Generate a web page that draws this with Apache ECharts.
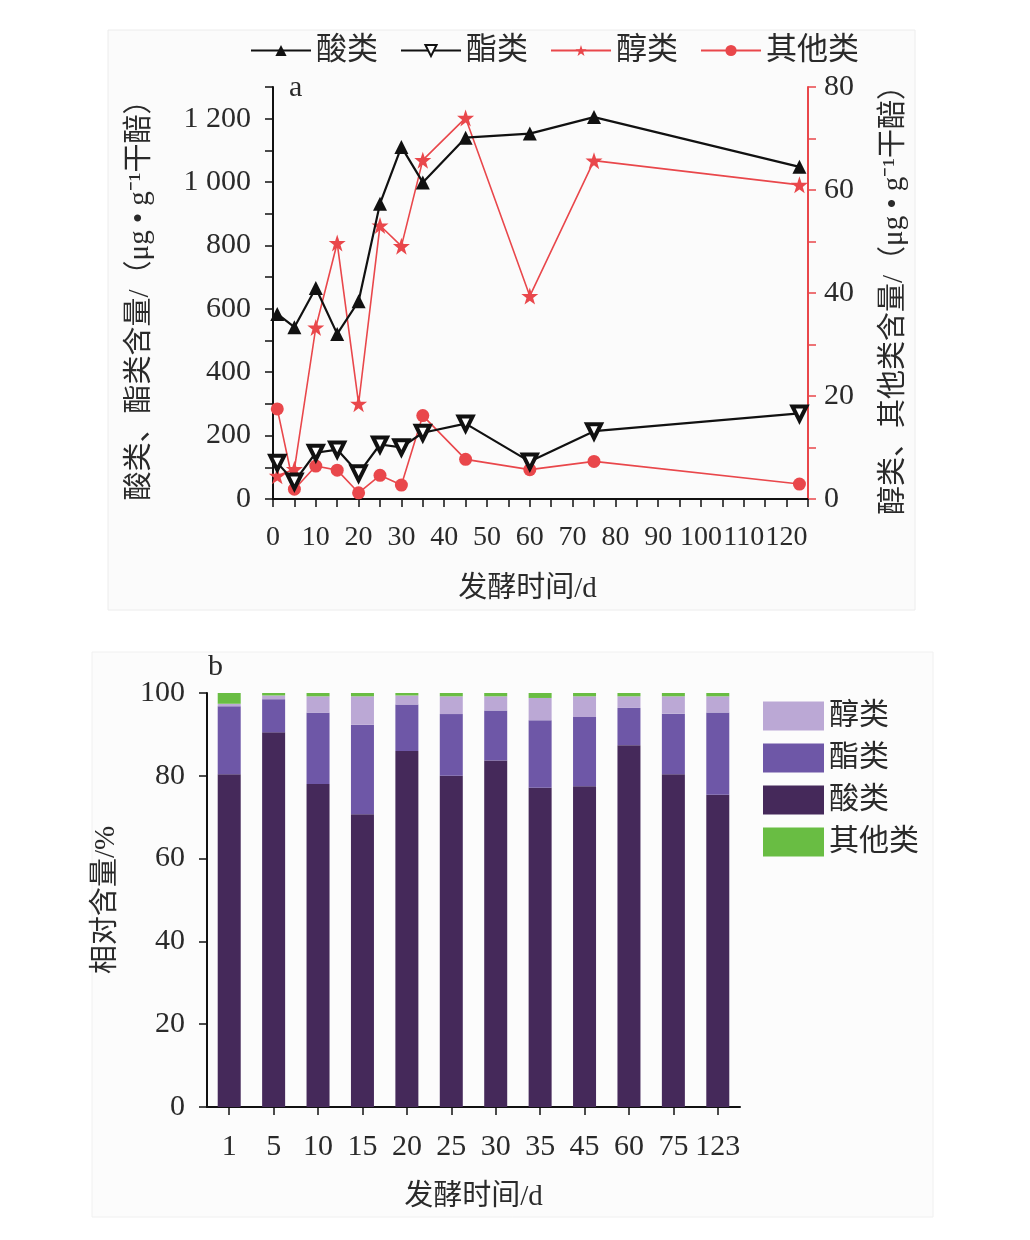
<!DOCTYPE html>
<html>
<head>
<meta charset="utf-8">
<script src="https://cdn.jsdelivr.net/npm/echarts@6/dist/echarts.min.js"></script>
<style>
html,body{margin:0;padding:0;background:#fff;}
#c{width:1030px;height:1240px;}
</style>
</head>
<body>
<div id="c"></div>
<script>
// ---- data: chart a ----
var days = [1, 5, 10, 15, 20, 25, 30, 35, 45, 60, 75, 123];
var acids = [584, 542, 666, 521, 624, 932, 1111, 999, 1140, 1153, 1205, 1048];
var esters = [114, 55, 146, 156, 81, 172, 163, 209, 238, 118, 214, 270];
var alcohols = [4.5, 5.8, 33.3, 49.7, 18.5, 53.1, 49.1, 65.8, 74.0, 39.4, 65.7, 61.0];
var others = [17.5, 1.9, 6.4, 5.6, 1.2, 4.6, 2.7, 16.2, 7.7, 5.7, 7.3, 2.9];

// ---- data: chart b ----
var cats = ['1', '5', '10', '15', '20', '25', '30', '35', '45', '60', '75', '123'];
var acidPct = [80.4, 90.5, 78.0, 70.7, 86.0, 80.0, 83.7, 77.1, 77.5, 87.4, 80.4, 75.4];
var esterPct = [16.4, 8.0, 17.2, 21.6, 11.2, 14.9, 12.1, 16.3, 16.7, 9.0, 14.6, 19.9];
var alcoholPct = [0.6, 0.9, 4.0, 6.9, 2.2, 4.3, 3.4, 5.4, 5.0, 2.8, 4.2, 3.9];
var otherPct = [2.6, 0.6, 0.8, 0.8, 0.6, 0.8, 0.8, 1.2, 0.8, 0.8, 0.8, 0.8];

var FONT = "'Liberation Serif', 'Noto Sans CJK SC', serif";
var TXT = '#2a2a2a';
var RED = '#e9474b';
var STAR = 'path://M50,0 L61.8,35.1 L98.9,35.3 L69.1,57.4 L80.3,92.7 L50,71.2 L19.7,92.7 L30.9,57.4 L1.1,35.3 L38.2,35.1 Z';

function pairs(xs, ys) { return xs.map(function (x, i) { return [x, ys[i]]; }); }
function fmtThousands(v) {
  if (v >= 1000) { var r = String(v % 1000); while (r.length < 3) r = '0' + r; return Math.floor(v / 1000) + ' ' + r; }
  return String(v);
}

var chart = echarts.init(document.getElementById('c'), null, { renderer: 'canvas' });
var axisLbl = { fontFamily: FONT, fontSize: 30, color: TXT };
var nameStyle = { fontFamily: FONT, fontSize: 29, color: TXT };

chart.setOption({
  backgroundColor: '#fff',
  animation: false,
  textStyle: { fontFamily: FONT },
  graphic: [
    { type: 'rect', z: -10, shape: { x: 108, y: 30, width: 807, height: 580 }, style: { fill: '#fbfbfb', stroke: '#ececec', lineWidth: 1 } },
    { type: 'rect', z: -10, shape: { x: 92, y: 652, width: 841, height: 565 }, style: { fill: '#fcfcfc', stroke: '#f0f0f0', lineWidth: 1 } },
    { type: 'text', left: 289, top: 73, style: { text: 'a', font: '30px ' + FONT, fill: TXT } },
    { type: 'text', left: 208, top: 652, style: { text: 'b', font: '30px ' + FONT, fill: TXT } }
  ],
  legend: [
    {
      left: 245, top: 30, itemWidth: 60, itemHeight: 14, itemGap: 22,
      data: ['酸类', '酯类', '醇类', '其他类'],
      textStyle: { fontFamily: FONT, fontSize: 31, color: TXT }
    },
    {
      orient: 'vertical', left: 758, top: 696, itemWidth: 61, itemHeight: 29, itemGap: 12,
      icon: 'rect',
      data: ['醇类 ', '酯类 ', '酸类 ', '其他类 '],
      textStyle: { fontFamily: FONT, fontSize: 30, color: TXT }
    }
  ],
  grid: [
    { left: 273, right: 222, top: 87, bottom: 741 },
    { left: 207, right: 290, top: 693, bottom: 133 }
  ],
  xAxis: [
    {
      type: 'value', gridIndex: 0, min: 0, max: 125, interval: 5,
      name: '发酵时间/d', nameLocation: 'middle', nameGap: 76,
      nameTextStyle: { fontFamily: FONT, fontSize: 29, color: TXT, padding: [0, 26, 0, 0] },
      axisLine: { show: true, onZero: false, lineStyle: { color: '#111', width: 2 } },
      axisTick: { show: true, inside: false, length: 8, lineStyle: { color: '#111', width: 1.5 } },
      axisLabel: Object.assign({}, axisLbl, { fontSize: 28, margin: 25, formatter: function (v) { return v % 10 === 0 ? String(v) : ''; } }),
      splitLine: { show: false }
    },
    {
      type: 'category', gridIndex: 1, data: cats,
      name: '发酵时间/d', nameLocation: 'middle', nameGap: 76, nameTextStyle: nameStyle,
      axisLine: { show: true, lineStyle: { color: '#111', width: 2 } },
      axisTick: { show: true, alignWithLabel: true, length: 8, lineStyle: { color: '#111', width: 1.5 } },
      axisLabel: Object.assign({}, axisLbl, { margin: 25, interval: 0 }),
      splitLine: { show: false }
    }
  ],
  yAxis: [
    {
      type: 'value', gridIndex: 0, min: 0, max: 1300, interval: 100, position: 'left',
      name: '酸类、酯类含量/（μg • g⁻¹干醅）', nameLocation: 'middle', nameGap: 118, nameRotate: 90,
      nameTextStyle: nameStyle,
      axisLine: { show: true, lineStyle: { color: '#111', width: 2 } },
      axisTick: { show: true, length: 8, lineStyle: { color: '#111', width: 1.5 } },
      axisLabel: Object.assign({}, axisLbl, { margin: 22, formatter: function (v) { return v % 200 === 0 ? fmtThousands(v) : ''; } }),
      splitLine: { show: false }
    },
    {
      type: 'value', gridIndex: 0, min: 0, max: 80, interval: 10, position: 'right',
      name: '醇类、其他类含量/（μg • g⁻¹干醅）', nameLocation: 'middle', nameGap: 72, nameRotate: 90,
      nameTextStyle: nameStyle,
      axisLine: { show: true, lineStyle: { color: RED, width: 2 } },
      axisTick: { show: true, length: 8, lineStyle: { color: RED, width: 1.5 } },
      axisLabel: Object.assign({}, axisLbl, { margin: 16, formatter: function (v) { return v % 20 === 0 ? String(v) : ''; } }),
      splitLine: { show: false }
    },
    {
      type: 'value', gridIndex: 1, min: 0, max: 100, interval: 20,
      name: '相对含量/%', nameLocation: 'middle', nameGap: 86, nameRotate: 90,
      nameTextStyle: nameStyle,
      axisLine: { show: true, lineStyle: { color: '#111', width: 2 } },
      axisTick: { show: true, length: 8, lineStyle: { color: '#111', width: 1.5 } },
      axisLabel: Object.assign({}, axisLbl, { margin: 22 }),
      splitLine: { show: false }
    }
  ],
  series: [
    {
      name: '酸类', type: 'line', xAxisIndex: 0, yAxisIndex: 0, data: pairs(days, acids),
      symbol: 'triangle', symbolSize: 14,
      lineStyle: { color: '#111', width: 2.2 }, itemStyle: { color: '#111' }, z: 4
    },
    {
      name: '酯类', type: 'line', xAxisIndex: 0, yAxisIndex: 0, data: pairs(days, esters),
      symbol: 'triangle', symbolRotate: 180, symbolSize: 14,
      lineStyle: { color: '#111', width: 2.2 }, itemStyle: { color: '#fff', borderColor: '#111', borderWidth: 4 }, z: 4
    },
    {
      name: '醇类', type: 'line', xAxisIndex: 0, yAxisIndex: 1, data: pairs(days, alcohols),
      symbol: STAR, symbolSize: 17,
      lineStyle: { color: RED, width: 1.6 }, itemStyle: { color: RED }, z: 3
    },
    {
      name: '其他类', type: 'line', xAxisIndex: 0, yAxisIndex: 1, data: pairs(days, others),
      symbol: 'circle', symbolSize: 13,
      lineStyle: { color: RED, width: 1.6 }, itemStyle: { color: RED }, z: 3
    },
    {
      name: '酸类 ', type: 'bar', xAxisIndex: 1, yAxisIndex: 2, stack: 'pct', barWidth: 23,
      data: acidPct, itemStyle: { color: '#45295a' }
    },
    {
      name: '酯类 ', type: 'bar', xAxisIndex: 1, yAxisIndex: 2, stack: 'pct', barWidth: 23,
      data: esterPct, itemStyle: { color: '#6e57a7' }
    },
    {
      name: '醇类 ', type: 'bar', xAxisIndex: 1, yAxisIndex: 2, stack: 'pct', barWidth: 23,
      data: alcoholPct, itemStyle: { color: '#bba8d5' }
    },
    {
      name: '其他类 ', type: 'bar', xAxisIndex: 1, yAxisIndex: 2, stack: 'pct', barWidth: 23,
      data: otherPct, itemStyle: { color: '#69bd43' }
    }
  ]
});
</script>
</body>
</html>
